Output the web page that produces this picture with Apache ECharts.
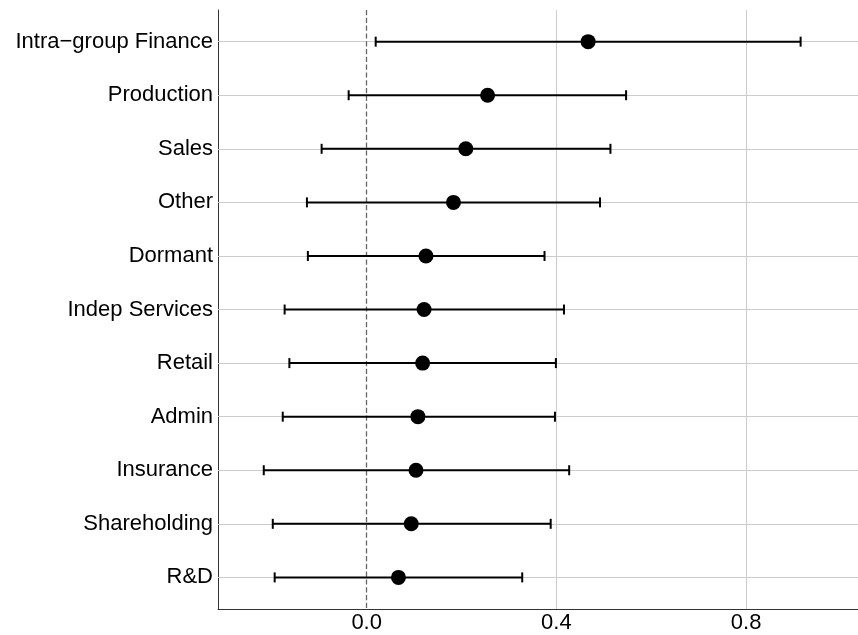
<!DOCTYPE html>
<html>
<head>
<meta charset="utf-8">
<script src="https://cdn.jsdelivr.net/npm/echarts@6/dist/echarts.min.js"></script>
<style>
html,body{margin:0;padding:0;background:#fff;}
#chart{width:858px;height:635px;}
</style>
</head>
<body>
<div id="chart"></div>
<script>
const categories = ["Intra\u2212group Finance","Production","Sales","Other","Dormant","Indep Services","Retail","Admin","Insurance","Shareholding","R&D"];
const estimates = [0.467,0.255,0.209,0.183,0.125,0.121,0.118,0.108,0.104,0.094,0.067];
const lower = [0.019,-0.038,-0.095,-0.126,-0.124,-0.173,-0.163,-0.177,-0.217,-0.198,-0.194];
const upper = [0.915,0.547,0.514,0.492,0.375,0.416,0.399,0.397,0.427,0.388,0.328];
const xTicks = [0, 0.4, 0.8];
const xGrid = [0.4, 0.8];
const refLine = 0;

const positions = categories.map((c,i)=>i+1);
const font = "'Liberation Sans', Arial, Helvetica, sans-serif";

const chart = echarts.init(document.getElementById('chart'), null, {renderer:'canvas'});
chart.setOption({
  animation:false,
  backgroundColor:'#ffffff',
  grid:{left:218, top:10, right:0, bottom:26, containLabel:false},
  xAxis:{
    type:'value', min:-0.3135, max:1.036,
    axisLine:{show:true, onZero:false, lineStyle:{color:'#333333', width:1}},
    axisTick:{show:false},
    splitLine:{show:false},
    axisLabel:{customValues:xTicks, formatter:v=>v.toFixed(1), color:'#000', fontSize:22, fontFamily:font, margin:3}
  },
  yAxis:{
    type:'value', min:0.409, max:11.59, inverse:true,
    axisLine:{show:true, onZero:false, lineStyle:{color:'#333333', width:1}},
    axisTick:{show:false},
    splitLine:{show:false},
    axisLabel:{customValues:positions, formatter:v=>categories[Math.round(v)-1]||'', color:'#000', fontSize:22, fontFamily:font, margin:5}
  },
  series:[
    {
      type:'line', data:[], z:1, silent:true,
      markLine:{
        z:1, silent:true, symbol:'none', animation:false,
        label:{show:false},
        data:[
          ...positions.map(p=>({yAxis:p, lineStyle:{color:'#cccccc', width:1, type:'solid'}})),
          ...xGrid.map(v=>({xAxis:v, lineStyle:{color:'#cccccc', width:1, type:'solid'}})),
          {xAxis:refLine, lineStyle:{color:'#666666', width:1.3, type:'dashed'}}
        ]
      }
    },
    {
      type:'custom', z:10, silent:true,
      data:categories.map((c,i)=>[lower[i], upper[i], positions[i]]),
      encode:{x:[0,1], y:2},
      renderItem:function(params, api){
        const lo = api.coord([api.value(0), api.value(2)]);
        const hi = api.coord([api.value(1), api.value(2)]);
        const h = 5;
        const mk = ()=>({stroke:'#000000', lineWidth:2, fill:null});
        return {type:'group', children:[
          {type:'line', shape:{x1:lo[0], y1:lo[1], x2:hi[0], y2:hi[1]}, style:mk()},
          {type:'line', shape:{x1:lo[0], y1:lo[1]-h, x2:lo[0], y2:lo[1]+h}, style:mk()},
          {type:'line', shape:{x1:hi[0], y1:hi[1]-h, x2:hi[0], y2:hi[1]+h}, style:mk()}
        ]};
      }
    },
    {
      type:'scatter', z:11, silent:true,
      symbol:'circle', symbolSize:15,
      itemStyle:{color:'#000000', opacity:1},
      data:categories.map((c,i)=>[estimates[i], positions[i]])
    }
  ]
});
</script>
</body>
</html>
